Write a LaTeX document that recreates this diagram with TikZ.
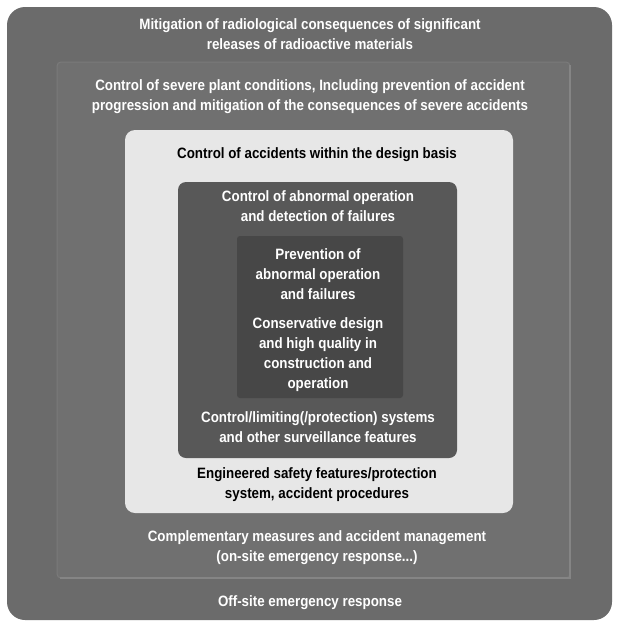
\documentclass[tikz,border=0pt]{standalone}
\usepackage{fontspec}
\setmainfont{Liberation Sans}[FakeStretch=0.89]
\definecolor{offsite}{HTML}{6B6B6B}
\definecolor{severe}{HTML}{707070}
\definecolor{severeedge}{HTML}{858585}
\definecolor{severetop}{HTML}{7A7A7A}
\definecolor{basis}{HTML}{E7E7E7}
\definecolor{abnormal}{HTML}{585858}
\definecolor{prevent}{HTML}{474747}
\begin{document}
\begin{tikzpicture}[x=1pt, y=-1pt,
  lite/.style={text=white, font=\bfseries\fontsize{15}{20}\selectfont, align=center},
  dark/.style={lite, text=black}]
  \useasboundingbox (0,0) rectangle (620,625);
  % nested levels, outermost first
  \fill[offsite, rounded corners=18pt] (7,7) rectangle (612,620);
  \draw[severetop, fill=severe, line width=1pt, rounded corners=4pt] (57,62) rectangle (570,578);
  \draw[severeedge, line width=1.5pt] (60,578) -- (570,578) -- (570,65);
  \fill[basis, rounded corners=10pt] (125,130) rectangle (513,513);
  \fill[abnormal, rounded corners=8pt] (178,182) rectangle (457,458);
  \fill[prevent, rounded corners=3pt] (237,236) rectangle (403,398);
  % labels
  \node[lite] (mitigation) at (310,34) {Mitigation of radiological consequences of significant\\releases of radioactive materials};
  \node[lite] (severe) at (310,97) {Control of severe plant conditions, Including prevention of accident\\progression and mitigation of the consequences of severe accidents};
  \node[dark] (basis) at (317,155) {Control of accidents within the design basis};
  \node[lite] (abnormal) at (318,206) {Control of abnormal operation\\and detection of failures};
  \node[lite] (prevention) at (318,274) {Prevention of\\abnormal operation\\and failures};
  \node[lite] (design) at (318,355) {Conservative design\\and high quality in\\construction and\\operation};
  \node[lite] (limiting) at (318,427) {Control/limiting(/protection) systems\\and other surveillance features};
  \node[dark] (engineered) at (317,485) {Engineered safety features/protection\\system, accident procedures};
  \node[lite] (complementary) at (317,548) {Complementary measures and accident management\\(on-site emergency response...)};
  \node[lite] (offsite) at (310,603) {Off-site emergency response};
\end{tikzpicture}
\end{document}
